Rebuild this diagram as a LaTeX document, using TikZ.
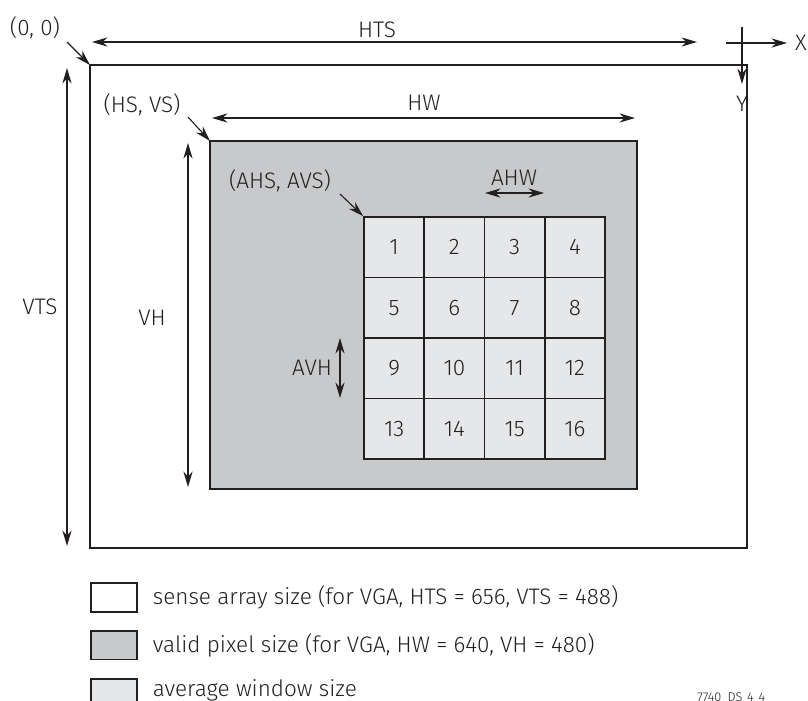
\documentclass[tikz,border=0pt]{standalone}
\usepackage{fontspec}
\setmainfont{Fira Sans Light}
\usetikzlibrary{arrows, arrows.meta, positioning}

\definecolor{ink}{HTML}{231F20}
\definecolor{validgray}{HTML}{C8C9CB}
\definecolor{windowgray}{HTML}{E6E7E8}

\tikzset{
    frame/.style={draw=ink, line width=1.6pt},
    dimline/.style={<->, ink, line width=0.8pt},
    pointer/.style={->, ink, line width=0.8pt},
    lbl/.style={text=ink, inner sep=0pt},
    cell/.style={draw=ink, fill=windowgray, line width=1.1pt, minimum width=1.506cm, minimum height=1.5125cm, inner sep=0pt, text=ink},
    keybox/.style={draw=ink, line width=1.3pt, minimum width=1.15cm, minimum height=0.72cm, inner sep=0pt}
}

\begin{document}
\begin{tikzpicture}[x=0.025cm, y=-0.025cm, >={Stealth[length=11pt, width=6.5pt, inset=3.5pt]}, font=\fontsize{16}{19}\selectfont]
    % Definitions
    \useasboundingbox (0,0) rectangle (808,700);
    \def \cellw{60.25}
    \def \cellh{60.5}
    \def \gridx{364}
    \def \gridy{217}
    %%%
    %%% Sense array
    %%%
    \draw[frame, fill=white] (90,65) coordinate (senseNW) rectangle (747,548) coordinate (senseSE);
    \node[lbl] (origin) at (35,28) {(0, 0)};
    \coordinate (originTail) at (67,42);
    \draw[pointer] (originTail) -- (senseNW);
    % HTS / VTS
    \coordinate (htsL) at (92,42);
    \coordinate (htsR) at (697,42);
    \draw[dimline] (htsL) -- (htsR);
    \node[lbl] (hts) at (377,30) {HTS};
    \coordinate (vtsT) at (67,68);
    \coordinate (vtsB) at (67,546);
    \draw[dimline] (vtsT) -- (vtsB);
    \node[lbl] (vts) at (40,307) {VTS};
    % Axes
    \coordinate (axisW) at (726,43);
    \coordinate (axisE) at (787,43);
    \coordinate (axisN) at (742,27);
    \coordinate (axisS) at (742,84);
    \draw[->, ink, line width=0.8pt] (axisW) -- (axisE);
    \draw[->, ink, line width=0.8pt] (axisN) -- (axisS);
    \node[lbl] (xaxis) at (801,43) {X};
    \node[lbl] (yaxis) at (742,104) {Y};
    %%%
    %%% Valid pixel area
    %%%
    \draw[frame, line width=1.3pt, fill=validgray] (210,141) coordinate (validNW) rectangle (637,489) coordinate (validSE);
    \node[lbl] (validorigin) at (142,105) {(HS, VS)};
    \coordinate (validTail) at (188,117);
    \draw[pointer] (validTail) -- (validNW);
    % HW / VH
    \coordinate (hwL) at (212,118);
    \coordinate (hwR) at (635,118);
    \draw[dimline] (hwL) -- (hwR);
    \node[lbl] (hw) at (424,103) {HW};
    \coordinate (vhT) at (188,143);
    \coordinate (vhB) at (188,487);
    \draw[dimline] (vhT) -- (vhB);
    \node[lbl] (vh) at (152,318) {VH};
    %%%
    %%% Average windows
    %%%
    \foreach \r in {0,...,3}
    {
        \foreach \c in {0,...,3}
        {
            \pgfmathtruncatemacro{\n}{4*\r+\c+1}
            \pgfmathsetmacro{\cx}{\gridx+(\c+0.5)*\cellw}
            \pgfmathsetmacro{\cy}{\gridy+(\r+0.5)*\cellh}
            \node[cell] (cell\n) at (\cx,\cy) {\n};
        }
    }
    \node[lbl] (windoworigin) at (280,181) {(AHS, AVS)};
    \coordinate (windowTail) at (340,194);
    \draw[pointer] (windowTail) -- (cell1.north west);
    % AHW / AVH
    \coordinate (ahwL) at (485,193);
    \coordinate (ahwR) at (544,193);
    \draw[dimline] (ahwL) -- (ahwR);
    \node[lbl] (ahw) at (514,178) {AHW};
    \coordinate (avhT) at (340,338);
    \coordinate (avhB) at (340,398);
    \draw[dimline] (avhT) -- (avhB);
    \node[lbl] (avh) at (312,368) {AVH};
    %%%
    %%% Legend
    %%%
    \node[keybox, fill=white, anchor=north west] (keysense) at (90,582) {};
    \node[keybox, fill=validgray, below=0.43cm of keysense] (keyvalid) {};
    \node[keybox, fill=windowgray, below=0.43cm of keyvalid] (keywindow) {};
    \node[lbl, right=10.5pt of keysense] (txtsense) {sense array size (for VGA, HTS = 656, VTS = 488)};
    \node[lbl, right=10.5pt of keyvalid] (txtvalid) {valid pixel size (for VGA, HW = 640, VH = 480)};
    \node[lbl, right=10.5pt of keywindow, yshift=2pt] (txtwindow) {average window size};
    \node[lbl, anchor=north west, font=\fontsize{9}{10}\selectfont] (figtag) at (697,692) {7740\_DS\_4\_4};
\end{tikzpicture}
\end{document}
